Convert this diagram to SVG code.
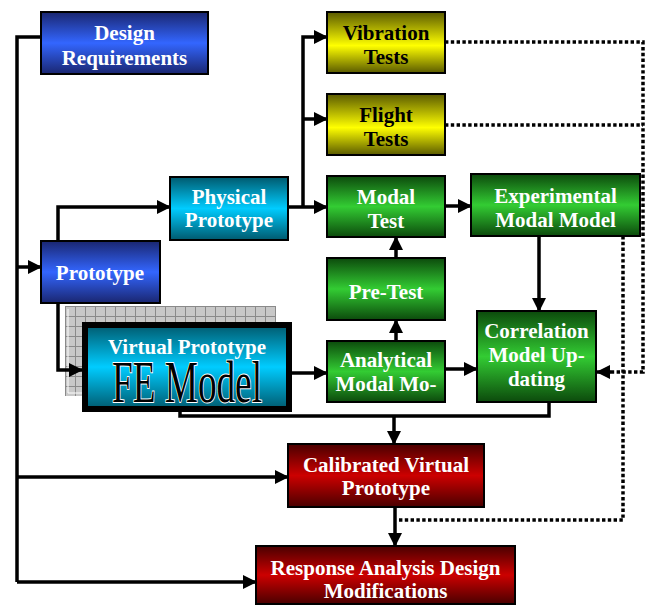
<svg xmlns="http://www.w3.org/2000/svg" width="648" height="605" viewBox="0 0 648 605">
<defs>
<linearGradient id="gBlue" x1="0" y1="0" x2="0" y2="1"><stop offset="0" stop-color="#1a2670"/><stop offset="0.5" stop-color="#3366ff"/><stop offset="1" stop-color="#1a2670"/></linearGradient>
<linearGradient id="gYel" x1="0" y1="0" x2="0" y2="1"><stop offset="0" stop-color="#5a5a00"/><stop offset="0.55" stop-color="#ffff00"/><stop offset="1" stop-color="#5a5a00"/></linearGradient>
<linearGradient id="gGrn" x1="0" y1="0" x2="0" y2="1"><stop offset="0" stop-color="#0c4a0c"/><stop offset="0.5" stop-color="#33cc33"/><stop offset="1" stop-color="#0c4a0c"/></linearGradient>
<linearGradient id="gCyn" x1="0" y1="0" x2="0" y2="1"><stop offset="0" stop-color="#005a6e"/><stop offset="0.5" stop-color="#00ccff"/><stop offset="1" stop-color="#005a6e"/></linearGradient>
<linearGradient id="gRed" x1="0" y1="0" x2="0" y2="1"><stop offset="0" stop-color="#4a0000"/><stop offset="0.5" stop-color="#cc0000"/><stop offset="1" stop-color="#4a0000"/></linearGradient>
<pattern id="grid" width="10" height="10" patternUnits="userSpaceOnUse" x="65" y="306">
<rect width="10" height="10" fill="#c8c8c8"/>
<path d="M0,0.5 H10 M0.5,0 V10" stroke="#8a8a8a" stroke-width="1"/>
</pattern>
<marker id="ah" viewBox="0 0 14 14" refX="13" refY="7" markerWidth="14" markerHeight="14" markerUnits="userSpaceOnUse" orient="auto"><path d="M0,0 L14,7 L0,14 z" fill="#000"/></marker>
</defs>
<style>
.box{stroke:#000;stroke-width:2}
.t{font-family:"Liberation Serif","Times New Roman",serif;font-weight:bold;font-size:21px;text-anchor:middle;fill:#fff}
.tk{fill:#000}
.c{fill:none;stroke:#000;stroke-width:3.5}
.d{fill:none;stroke:#000;stroke-width:3.5;stroke-dasharray:3.4 2.4}
</style>

<g id="design-requirements">
<rect class="box" x="41" y="12" width="167" height="62" fill="url(#gBlue)"/>
<text class="t" x="124.5" y="40">Design</text>
<text class="t" x="124.5" y="65">Requirements</text>
</g>

<g id="vibration-tests">
<rect class="box" x="327" y="12" width="118" height="61" fill="url(#gYel)"/>
<text class="t tk" x="386" y="40">Vibration</text>
<text class="t tk" x="386" y="64">Tests</text>
</g>

<g id="flight-tests">
<rect class="box" x="327" y="94" width="118" height="61" fill="url(#gYel)"/>
<text class="t tk" x="386" y="122">Flight</text>
<text class="t tk" x="386" y="146">Tests</text>
</g>

<g id="physical-prototype">
<rect class="box" x="170" y="177" width="118" height="63" fill="url(#gCyn)"/>
<text class="t" x="229" y="204">Physical</text>
<text class="t" x="229" y="227">Prototype</text>
</g>

<g id="modal-test">
<rect class="box" x="327" y="176" width="118" height="61" fill="url(#gGrn)"/>
<text class="t" x="386" y="204">Modal</text>
<text class="t" x="386" y="228">Test</text>
</g>

<g id="experimental-modal-model">
<rect class="box" x="471" y="174" width="169" height="62" fill="url(#gGrn)"/>
<text class="t" x="555.5" y="203">Experimental</text>
<text class="t" x="555.5" y="227">Modal Model</text>
</g>

<g id="prototype">
<rect class="box" x="41" y="241" width="119" height="62" fill="url(#gBlue)"/>
<text class="t" x="100" y="280">Prototype</text>
</g>

<g id="pre-test">
<rect class="box" x="327" y="258" width="118" height="62" fill="url(#gGrn)"/>
<text class="t" x="386" y="299">Pre-Test</text>
</g>

<g id="virtual-prototype">
<rect x="65" y="306" width="211" height="90" fill="url(#grid)"/>
<path d="M68,309 V393 H276" fill="none" stroke="#fff" stroke-width="1"/>
<rect x="85" y="325" width="204" height="84" fill="url(#gCyn)" stroke="#000" stroke-width="6"/>
<text class="t" x="187" y="354">Virtual Prototype</text>
<text x="187" y="402" font-family="'Liberation Serif','Times New Roman',serif" font-size="60" text-anchor="middle" textLength="150" lengthAdjust="spacingAndGlyphs" fill="#000" stroke="#fff" stroke-width="2" paint-order="stroke">FE Model</text>
</g>

<g id="analytical-modal-model">
<rect class="box" x="327" y="341" width="118" height="61" fill="url(#gGrn)"/>
<text class="t" x="386" y="367">Analytical</text>
<text class="t" x="386" y="391">Modal Mo-</text>
</g>

<g id="correlation-model-updating">
<rect class="box" x="477" y="311" width="119" height="91" fill="url(#gGrn)"/>
<text class="t" x="536.5" y="338">Correlation</text>
<text class="t" x="536.5" y="362">Model Up-</text>
<text class="t" x="536.5" y="386">dating</text>
</g>

<g id="calibrated-virtual-prototype">
<rect class="box" x="288" y="444" width="196" height="63" fill="url(#gRed)"/>
<text class="t" x="386" y="472">Calibrated Virtual</text>
<text class="t" x="386" y="495">Prototype</text>
</g>

<g id="response-analysis">
<rect class="box" x="256" y="546" width="259" height="58" fill="url(#gRed)"/>
<text class="t" x="385.5" y="575">Response Analysis Design</text>
<text class="t" x="385.5" y="598">Modifications</text>
</g>

<g id="connectors">
<path class="c" d="M41,37 H17 V582"/>
<path class="c" d="M17,267 H41" marker-end="url(#ah)"/>
<path class="c" d="M17,477 H288" marker-end="url(#ah)"/>
<path class="c" d="M17,582 H256" marker-end="url(#ah)"/>
<path class="c" d="M58,241 V207 H170" marker-end="url(#ah)"/>
<path class="c" d="M58,303 V370 H82" marker-end="url(#ah)"/>
<path class="c" d="M288,207 H327" marker-end="url(#ah)"/>
<path class="c" d="M303,207 V37 H327" marker-end="url(#ah)"/>
<path class="c" d="M303,119 H327" marker-end="url(#ah)"/>
<path class="c" d="M445,206 H471" marker-end="url(#ah)"/>
<path class="c" d="M539,236 V311" marker-end="url(#ah)"/>
<path class="c" d="M396,258 V237" marker-end="url(#ah)"/>
<path class="c" d="M396,341 V320" marker-end="url(#ah)"/>
<path class="c" d="M292,373 H327" marker-end="url(#ah)"/>
<path class="c" d="M445,369 H477" marker-end="url(#ah)"/>
<path class="c" d="M180,412 V416 H549 V402"/>
<path class="c" d="M394,416 V444" marker-end="url(#ah)"/>
<path class="c" d="M395,507 V546" marker-end="url(#ah)"/>
<path class="d" d="M445,42 H643 V372 H610"/>
<path class="d" d="M445,125 H643"/>
<path class="c" d="M611,372 H597" marker-end="url(#ah)" stroke-width="3"/>
<path class="d" d="M623,236 V520 H397"/>
</g>
</svg>
